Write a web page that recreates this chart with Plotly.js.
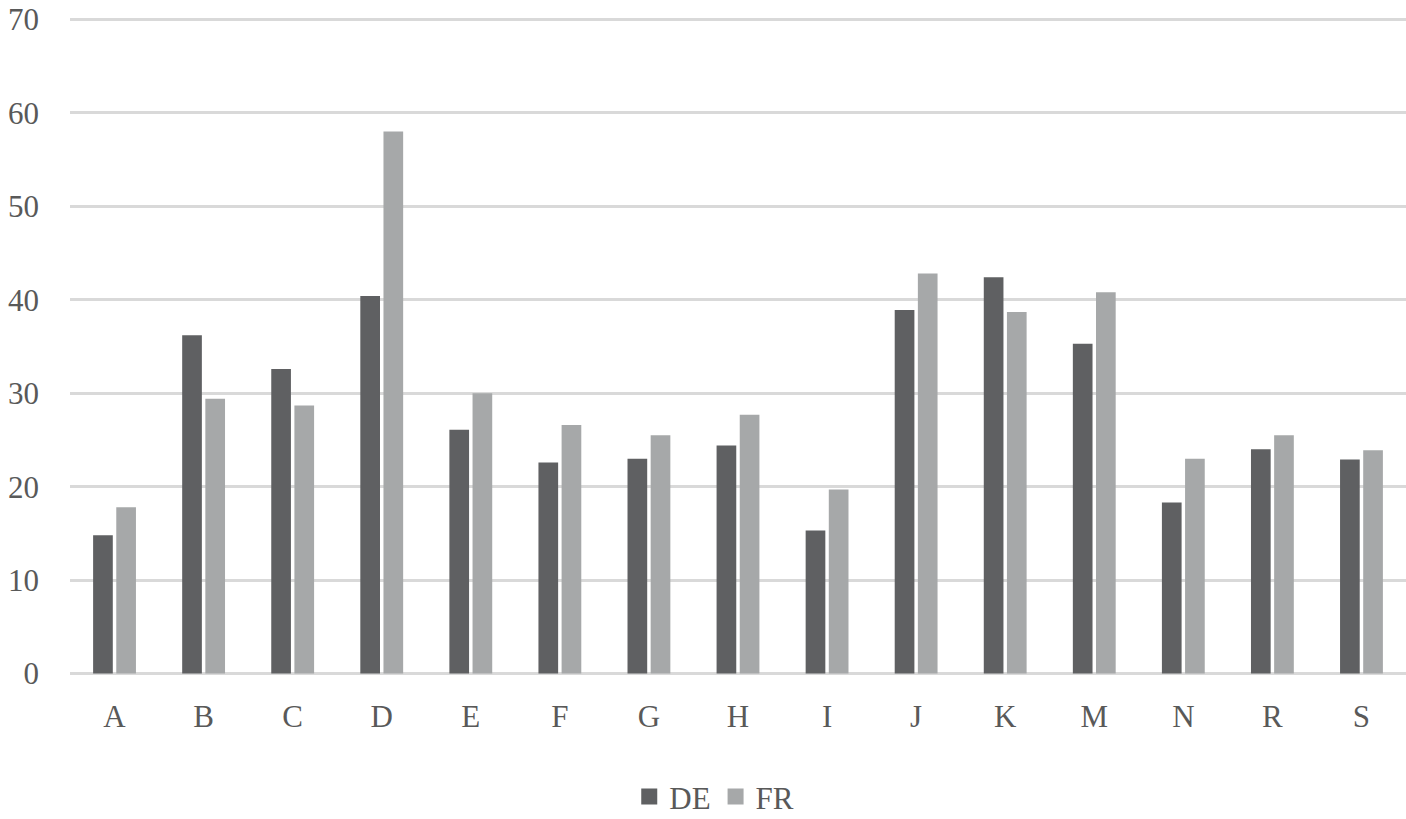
<!DOCTYPE html>
<html>
<head>
<meta charset="utf-8">
<script src="https://cdn.plot.ly/plotly-3.0.1.min.js"></script>
<style>html,body{margin:0;padding:0;background:#fff;}#chart{width:1406px;height:819px;}</style>
</head>
<body>
<div id="chart"></div>
<script>
const categories = ["A","B","C","D","E","F","G","H","I","J","K","M","N","R","S"];
const deValues = [14.8, 36.2, 32.6, 40.4, 26.1, 22.6, 23.0, 24.4, 15.3, 38.9, 42.4, 35.3, 18.3, 24.0, 22.9];
const frValues = [17.8, 29.4, 28.7, 58.0, 30.0, 26.6, 25.5, 27.7, 19.7, 42.8, 38.7, 40.8, 23.0, 25.5, 23.9];
const yTicks = [0, 10, 20, 30, 40, 50, 60, 70];
const seriesNames = ["DE", "FR"];
const seriesColors = ["#5f6062", "#a6a8a9"];

const font = {family: "Liberation Serif", size: 31, color: "#595959"};

const data = [
  {type: "bar", name: seriesNames[0], x: categories, y: deValues, marker: {color: seriesColors[0]}, showlegend: false},
  {type: "bar", name: seriesNames[1], x: categories, y: frValues, marker: {color: seriesColors[1]}, showlegend: false},
  {type: "scatter", mode: "markers", name: seriesNames[0], x: [null], y: [null], marker: {symbol: "square", size: 16, color: seriesColors[0]}},
  {type: "scatter", mode: "markers", name: seriesNames[1], x: [null], y: [null], marker: {symbol: "square", size: 16, color: seriesColors[1]}}
];

const layout = {
  width: 1406, height: 819,
  margin: {l: 70, r: 0, t: 18, b: 144},
  paper_bgcolor: "#fff", plot_bgcolor: "#fff",
  font: font,
  barmode: "group",
  bargap: 0.48,
  bargroupgap: 0.15,
  showlegend: true,
  legend: {orientation: "h", x: 0.508, xref: "container", xanchor: "center", y: 0.027, yref: "container", yanchor: "middle",
           font: {family: "Liberation Serif", size: 31, color: "#595959"}, itemwidth: 30, tracegroupgap: 0},
  xaxis: {showgrid: false, zeroline: false, showline: false, ticks: "", tickfont: font, ticklabelstandoff: 20, fixedrange: true},
  yaxis: {range: [-0.15, 70.15], tickvals: yTicks, showgrid: true, gridcolor: "#d9d9d9", gridwidth: 3, zeroline: false, showline: false, ticks: "", tickfont: font, ticklabelstandoff: 30}
};

Plotly.newPlot("chart", data, layout, {displayModeBar: false, staticPlot: true});
</script>
</body>
</html>
